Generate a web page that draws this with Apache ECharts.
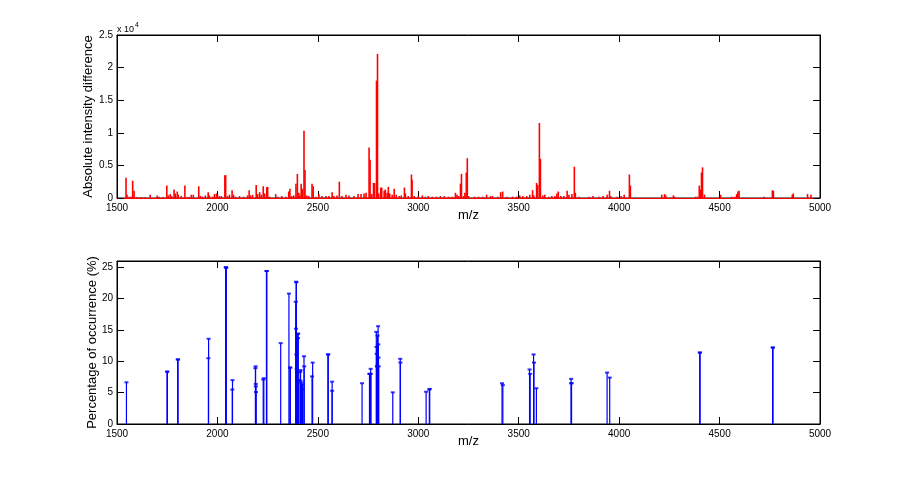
<!DOCTYPE html>
<html>
<head>
<meta charset="utf-8">
<script src="https://cdn.jsdelivr.net/npm/echarts@6/dist/echarts.min.js"></script>
<style>
  html, body { margin: 0; padding: 0; background: #fff; }
  #main { width: 906px; height: 477px; }
</style>
</head>
<body>
<div id="main"></div>
<script>
// top panel: m/z and absolute intensity difference
var topMz = [1545,1550,1560,1570,1578,1585,1600,1620,1640,1665,1700,1710,1730,1748,1755,1765,1772,1784,1790,1800,
  1805,1820,1838,1850,1860,1870,1880,1907,1915,1925,1940,1954,1960,1975,1985,1995,2000,2010,2020,2037,
  2041,2050,2060,2073,2080,2090,2110,2130,2150,2158,2165,2175,2193,2200,2210,2218,2228,2235,2246,2250,
  2260,2290,2300,2320,2340,2355,2361,2370,2380,2391,2398,2405,2410,2417,2422,2431,2436,2445,2455,2471,
  2477,2490,2505,2520,2540,2555,2571,2580,2595,2607,2620,2640,2655,2680,2700,2715,2730,2740,2755,2760,
  2768,2777,2782,2792,2797,2803,2813,2818,2830,2836,2845,2851,2858,2870,2880,2890,2905,2915,2931,2936,
  2950,2966,2969,2980,3000,3020,3035,3050,3070,3090,3110,3130,3150,3170,3185,3193,3200,3210,3215,3225,
  3232,3239,3244,3250,3280,3300,3320,3340,3360,3370,3395,3410,3420,3440,3470,3490,3505,3520,3540,3555,
  3569,3575,3589,3594,3603,3608,3620,3630,3650,3665,3680,3690,3697,3710,3725,3741,3750,3765,3777,3782,
  3800,3850,3870,3900,3920,3940,3952,3958,3990,4010,4025,4051,4056,4212,4226,4232,4270,4276,4380,4390,
  4399,4405,4410,4415,4425,4505,4560,4575,4585,4591,4597,4720,4763,4768,4862,4867,4938,4955];
var topIntensity = [3100,500,200,200,2650,1100,150,150,100,500,400,200,150,1900,400,600,300,1300,700,1000,
  500,300,1900,150,150,500,500,1800,300,200,400,900,400,200,600,700,500,300,300,3500,
  3500,300,500,1200,500,200,300,200,400,1200,400,500,2000,600,900,500,1800,700,1700,1700,
  200,600,200,300,200,1000,1400,300,400,2200,3700,800,400,2200,1400,10300,4300,400,300,2200,
  1800,200,600,300,300,300,900,300,400,2500,300,500,400,300,600,600,700,800,7750,5850,
  600,2300,2300,18000,22100,700,1600,1600,1100,1300,800,1700,700,500,1400,500,300,400,1600,700,
  300,3600,2800,300,300,400,200,300,200,200,300,300,200,200,800,500,300,2200,3700,300,
  800,3900,6100,300,200,200,200,500,300,300,200,900,1000,200,200,200,400,300,300,500,
  1200,400,2300,2000,11500,6000,400,500,200,300,300,700,1000,300,300,1100,500,600,4800,800,
  200,200,300,200,300,500,1100,300,200,300,500,3600,1900,500,600,400,400,200,200,200,
  1900,1300,3900,4700,500,500,200,200,600,1000,1100,200,1200,1100,500,700,600,500];

// bottom panel: m/z and percentage of occurrence
var botMz = [1547,1749,1751,1802,1804,1955,1956,2041,2043,2044,2074,2075,2189,2190,2191,2191,2192,2228,2231,2244,
  2246,2315,2356,2361,2363,2390,2391,2392,2393,2393,2395,2396,2396,2400,2402,2401,2405,2412,2414,2414,
  2418,2424,2424,2431,2432,2471,2474,2550,2552,2571,2571,2720,2757,2758,2763,2764,2791,2792,2793,2794,
  2795,2797,2800,2801,2802,2803,2873,2910,2911,3039,3055,3057,3417,3421,3554,3557,3574,3576,3588,3761,
  3762,3763,3940,3953,4401,4403,4764,4766];
var botPercent = [6.65,8.35,8.35,10.3,10.3,10.5,13.6,25.0,25.0,24.9,5.5,7.0,8.9,9.2,6.4,6.0,5.1,7.1,7.3,24.4,
  24.4,12.9,20.8,9.0,9.0,19.5,15.2,22.7,22.6,11.1,8.8,6.9,5.5,14.4,14.4,13.7,7.0,8.3,8.6,6.9,
  6.6,6.3,5.5,10.8,9.2,7.6,9.8,11.1,11.1,6.75,5.3,6.5,8.0,8.0,8.8,8.0,14.7,12.3,11.2,9.2,
  9.2,14.1,15.6,12.7,10.6,9.2,5.05,10.4,9.8,5.15,5.5,5.6,6.5,6.2,8.7,8.0,11.1,9.8,5.7,7.2,
  6.5,6.5,8.2,7.4,11.4,11.4,12.2,12.2];

var mzTicks = [1500, 5000, 500];
var fontFam = 'Liberation Sans, Arial, sans-serif';

function pairs(xs, ys) {
  var out = [];
  for (var i = 0; i < xs.length; i++) out.push([xs[i], ys[i]]);
  return out;
}

function xAx(grid, pos, name, lineColor) {
  return {
    type: 'value', gridIndex: grid, position: pos,
    min: mzTicks[0], max: mzTicks[1], interval: mzTicks[2],
    name: name, nameLocation: 'middle', nameGap: 11, nameMoveOverlap: false,
    nameTextStyle: { color: '#000', fontSize: 13, fontFamily: fontFam },
    axisLine: { show: true, onZero: false, lineStyle: { color: lineColor, width: 1 } },
    axisTick: { show: true, inside: true, length: 7, lineStyle: { color: '#000' } },
    axisLabel: {
      show: pos === 'bottom', color: '#000', fontSize: 10, fontFamily: fontFam, margin: 5,
      formatter: function (v) { return String(v); }
    },
    splitLine: { show: false }
  };
}

function yAx(grid, pos, max, interval, name, gap, fmt) {
  return {
    type: 'value', gridIndex: grid, position: pos,
    min: 0, max: max, interval: interval,
    name: name, nameLocation: 'middle', nameGap: gap, nameMoveOverlap: false,
    nameTextStyle: { color: '#000', fontSize: 13, fontFamily: fontFam },
    axisLine: { show: true, lineStyle: { color: '#000', width: 1 } },
    axisTick: { show: true, inside: true, length: 7, lineStyle: { color: '#000' } },
    axisLabel: { show: pos === 'left', color: '#000', fontSize: 10, fontFamily: fontFam, margin: 4, formatter: fmt },
    splitLine: { show: false }
  };
}

var chart = echarts.init(document.getElementById('main'), null, { renderer: 'canvas' });

var option = {
  animation: false,
  backgroundColor: '#fff',
  grid: [
    { left: 117, top: 35, width: 703, height: 163, show: true, borderColor: '#000', borderWidth: 1, outerBoundsMode: 'none' },
    { left: 117, top: 261, width: 703, height: 163, show: true, borderColor: '#000', borderWidth: 1, outerBoundsMode: 'none' }
  ],
  xAxis: [
    xAx(0, 'bottom', 'm/z', '#ff0000'),
    xAx(0, 'top', '', '#000'),
    xAx(1, 'bottom', 'm/z', '#000'),
    xAx(1, 'top', '', '#000')
  ],
  yAxis: [
    yAx(0, 'left', 25000, 5000, 'Absolute intensity difference', 22, function (v) { return String(v / 10000); }),
    yAx(0, 'right', 25000, 5000, '', 10),
    yAx(1, 'left', 26, 5, 'Percentage of occurrence (%)', 18, function (v) { return v > 25 ? '' : String(v); }),
    yAx(1, 'right', 26, 5, '', 10)
  ],
  graphic: [{
    type: 'text', left: 117, top: 22,
    style: {
      text: '{a|x 10}{b|4}',
      rich: {
        a: { fontSize: 9, fontFamily: fontFam, fill: '#000', verticalAlign: 'bottom' },
        b: { fontSize: 7, fontFamily: fontFam, fill: '#000', verticalAlign: 'top', padding: [0, 0, 5, 1] }
      }
    }
  }],
  series: [
    {
      type: 'bar', xAxisIndex: 0, yAxisIndex: 0,
      data: pairs(topMz, topIntensity),
      barWidth: 1.6,
      itemStyle: { color: '#ff0000' }
    },
    {
      type: 'bar', xAxisIndex: 2, yAxisIndex: 2,
      data: pairs(botMz, botPercent),
      barWidth: 1.2,
      itemStyle: { color: '#0000ff' }
    },
    {
      type: 'scatter', xAxisIndex: 2, yAxisIndex: 2,
      data: pairs(botMz, botPercent),
      symbol: 'rect', symbolSize: [4, 2],
      itemStyle: { color: '#0000ff' }
    }
  ]
};

chart.setOption(option);
</script>
</body>
</html>
